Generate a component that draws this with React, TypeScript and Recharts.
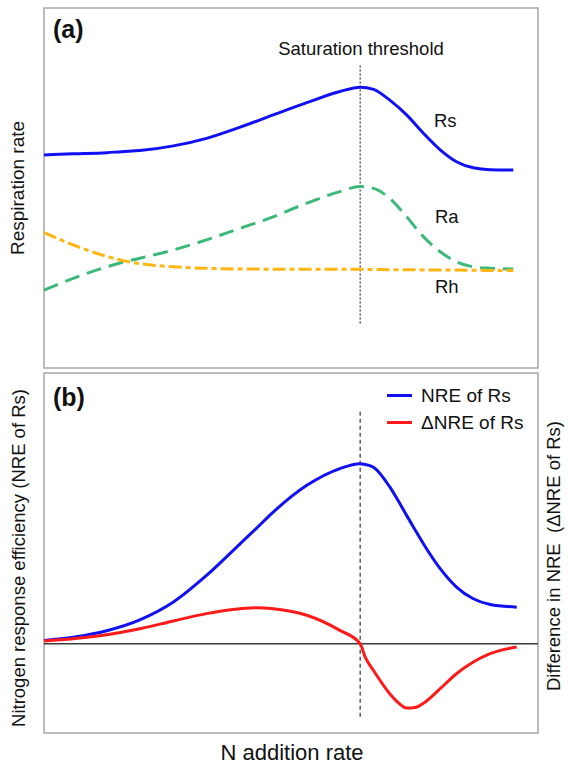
import React from 'react';
import { LineChart, Line, XAxis, YAxis, ReferenceLine, ReferenceArea, Legend } from 'recharts';

// Panel (a): respiration components vs N addition rate (relative units)
const nRateA = [0, 5.9, 12.7, 15.7, 19.4, 26.2, 32.9, 39.7, 46.4, 53.2, 59.9, 64, 66.7, 70, 73.4, 76.8, 80.2, 83.5, 86.9, 90.3, 95];
const rsValues = [59.2, 59.5, 59.8, 60.1, 60.4, 61.7, 63.8, 66.9, 70.3, 73.7, 76.8, 78.0, 77.4, 74.4, 70.3, 65.2, 60.6, 57.3, 55.6, 55.1, 55.0];
const raValues = [21.6, 24.9, 28.1, 29.3, 30.5, 32.8, 35.6, 38.8, 42.0, 45.8, 49.0, 50.4, 49.9, 47.1, 42.0, 36.5, 32.3, 29.5, 28.1, 27.7, 27.5];
const rhValues = [37.6, 34.2, 31.0, 29.9, 29.0, 28.1, 27.7, 27.5, 27.45, 27.4, 27.4, 27.4, 27.35, 27.3, 27.3, 27.25, 27.2, 27.2, 27.15, 27.1, 27.1];

// Panel (b): NRE of Rs and its difference (ΔNRE)
const nRateB = [0, 5.9, 12.7, 19.4, 26.2, 32.9, 39.7, 43.1, 46.4, 53.2, 59.9, 64, 65, 66.7, 70, 71.7, 73.4, 75.1, 76.8, 80.2, 83.5, 86.9, 90.3, 95.7];
const nreValues = [1.2, 2.4, 4.8, 8.8, 15.4, 25.2, 36.9, 42.8, 48.6, 58.5, 64.7, 66.5, 66.2, 65.2, 57.9, 52.8, 47.4, 42.1, 36.9, 27.7, 20.9, 16.6, 14.5, 13.5];
const dnreValues = [1.0, 1.8, 3.3, 5.5, 8.4, 11.1, 12.9, 13.3, 12.9, 10.5, 4.9, 0, -4.9, -9.9, -18.5, -21.8, -23.8, -23.6, -22.0, -16.6, -11.1, -6.8, -3.7, -1.2];

const saturationThreshold = 64;

const dataA = nRateA.map((x, i) => ({ x, rs: rsValues[i], ra: raValues[i], rh: rhValues[i] }));
const dataB = nRateB.map((x, i) => ({ x, nre: nreValues[i], dnre: dnreValues[i] }));

const FONT = '"Liberation Sans", Arial, Helvetica, sans-serif';
const BORDER = '#a6a6a6';
const BLUE = '#1010f2';
const GREEN = '#3cb878';
const ORANGE = '#ffb612';
const RED = '#ff1a1a';

const LegendContent = (props: any) => {
  const payload = props.payload || [];
  return (
    <div style={{ fontFamily: FONT, fontSize: 19, color: '#111' }}>
      {payload.map((p: any) => (
        <div key={p.value} style={{ display: 'flex', alignItems: 'center', height: 27 }}>
          <div style={{ width: 25, height: 3, background: p.color, marginRight: 9 }} />
          <span style={{ lineHeight: '27px', whiteSpace: 'nowrap' }}>{p.value}</span>
        </div>
      ))}
    </div>
  );
};

export default function App() {
  return (
    <div style={{ position: 'absolute', left: 0, top: 0, width: 568, height: 764, background: '#fff', fontFamily: FONT }}>
      <div style={{ position: 'absolute', left: 0, top: 0 }}>
        <LineChart width={568} height={370} data={dataA} margin={{ top: 8, right: 30, bottom: 2, left: 44 }}>
          <XAxis type="number" dataKey="x" domain={[0, 100]} hide />
          <YAxis type="number" domain={[0, 100]} hide allowDataOverflow />
          <ReferenceArea x1={0} x2={100} y1={0} y2={100} stroke={BORDER} strokeWidth={1.5} fill="none" />
          <ReferenceLine
            segment={[{ x: saturationThreshold, y: 84 }, { x: saturationThreshold, y: 12 }]}
            stroke="#333"
            strokeWidth={1.2}
            strokeDasharray="2 2"
          />
          <Line type="monotone" dataKey="rs" stroke={BLUE} strokeWidth={3} dot={false} isAnimationActive={false} />
          <Line type="monotone" dataKey="ra" stroke={GREEN} strokeWidth={3} strokeDasharray="15 8" dot={false} isAnimationActive={false} />
          <Line type="monotone" dataKey="rh" stroke={ORANGE} strokeWidth={3} strokeDasharray="13 4 5 4" dot={false} isAnimationActive={false} />
        </LineChart>
      </div>
      <div style={{ position: 'absolute', left: 0, top: 370 }}>
        <LineChart width={568} height={394} data={dataB} margin={{ top: 3, right: 30, bottom: 31, left: 44 }}>
          <XAxis type="number" dataKey="x" domain={[0, 100]} hide />
          <YAxis type="number" domain={[-33, 100]} hide allowDataOverflow />
          <ReferenceArea x1={0} x2={100} y1={-33} y2={100} stroke={BORDER} strokeWidth={1.5} fill="none" />
          <ReferenceLine y={0} stroke="#3a3a3a" strokeWidth={1.5} />
          <ReferenceLine
            segment={[{ x: saturationThreshold, y: 85.7 }, { x: saturationThreshold, y: -28 }]}
            stroke="#333"
            strokeWidth={1.2}
            strokeDasharray="4 3"
          />
          <Legend
            layout="vertical"
            align="center"
            verticalAlign="middle"
            content={LegendContent}
            wrapperStyle={{ left: 387, top: 12, width: 'auto' }}
          />
          <Line type="monotone" dataKey="nre" name="NRE of Rs" stroke={BLUE} strokeWidth={3} dot={false} isAnimationActive={false} />
          <Line type="monotone" dataKey="dnre" name="ΔNRE of Rs" stroke={RED} strokeWidth={3} dot={false} isAnimationActive={false} />
        </LineChart>
      </div>
      <svg width={568} height={764} style={{ position: 'absolute', left: 0, top: 0, pointerEvents: 'none' }}>
        <g fontFamily={FONT} fill="#111">
          <text x={53} y={29} fontSize={25} fontWeight="bold" dominantBaseline="central">(a)</text>
          <text x={361} y={48} fontSize={18.5} textAnchor="middle" dominantBaseline="central">Saturation threshold</text>
          <text x={434} y={120} fontSize={18.5} dominantBaseline="central">Rs</text>
          <text x={435} y={216} fontSize={18.5} dominantBaseline="central">Ra</text>
          <text x={435} y={286} fontSize={18.5} dominantBaseline="central">Rh</text>
          <text x={17} y={188} fontSize={19} textAnchor="middle" dominantBaseline="central" transform="rotate(-90 17 188)">Respiration rate</text>
          <text x={53} y={397} fontSize={25} fontWeight="bold" dominantBaseline="central">(b)</text>
          <text x={18} y={558} fontSize={18.5} textAnchor="middle" dominantBaseline="central" transform="rotate(-90 18 558)">Nitrogen response efficiency (NRE of Rs)</text>
          <text x={553} y={556} fontSize={18.5} textAnchor="middle" dominantBaseline="central" transform="rotate(-90 553 556)" style={{ whiteSpace: 'pre' }}>Difference in NRE  (ΔNRE of Rs)</text>
          <text x={292} y={752} fontSize={22} textAnchor="middle" dominantBaseline="central">N addition rate</text>
        </g>
      </svg>
    </div>
  );
}
